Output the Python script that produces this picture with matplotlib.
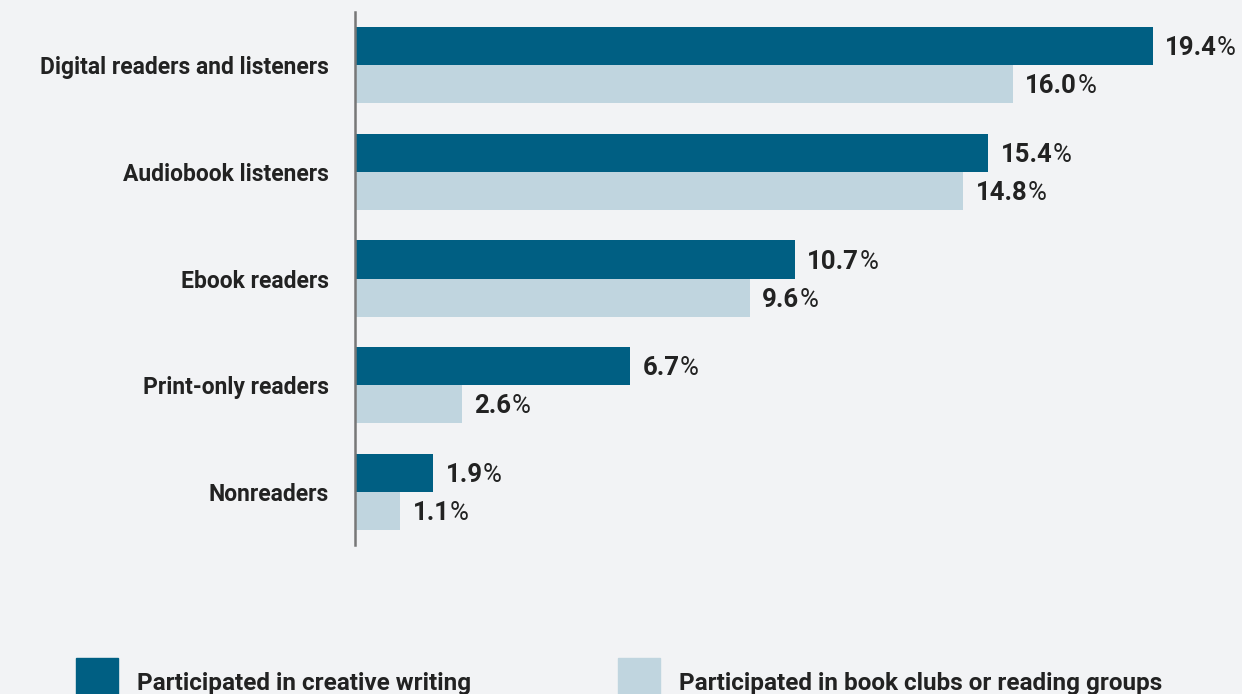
import matplotlib
matplotlib.use('Agg')
import matplotlib.pyplot as plt
from matplotlib.patches import Rectangle
import numpy as np

plt.rcParams['font.family'] = ['Roboto', 'DejaVu Sans']

# 数据
categories = ['Digital readers and listeners', 'Audiobook listeners', 'Ebook readers',
              'Print-only readers', 'Nonreaders']
creative_writing = [19.4, 15.4, 10.7, 6.7, 1.9]
book_clubs = [16.0, 14.8, 9.6, 2.6, 1.1]
legend_labels = ['Participated in creative writing', 'Participated in book clubs or reading groups']

dark = '#005f83'
light = '#c0d5df'
bg = '#f2f3f5'
txt = '#222222'

fig = plt.figure(figsize=(12.42, 6.94), dpi=100, facecolor=bg)
ax = fig.add_axes([0.2858, 0.2147, 0.6952, 0.768], facecolor=bg)

y = np.arange(len(categories))
h = 0.357
ax.barh(y - h / 2, creative_writing, height=h, color=dark)
ax.barh(y + h / 2, book_clubs, height=h, color=light)

ax.set_xlim(0, 21)
ax.set_ylim(4.5, -0.5)

for s in ['top', 'right', 'bottom']:
    ax.spines[s].set_visible(False)
ax.spines['left'].set_color('#777777')
ax.spines['left'].set_linewidth(1.8)
ax.set_xticks([])
ax.set_yticks(y)
ax.set_yticklabels(categories, fontsize=16.5, fontweight='bold', color=txt)
ax.tick_params(axis='y', length=0, pad=19)


# 数值标签: 数字加粗, 百分号常规
def add_label(v, yy):
    t = ax.annotate(f'{v:.1f}', xy=(v, yy), xytext=(9, -1.5), textcoords='offset points',
                    va='center', ha='left', fontsize=18.5, fontweight='bold', color=txt)
    ax.annotate('%', xy=(1, 0), xycoords=t, va='bottom', ha='left',
                fontsize=18.5, color=txt)


for i in range(len(categories)):
    add_label(creative_writing[i], y[i] - h / 2)
    add_label(book_clubs[i], y[i] + h / 2)

# 图例
for x0, col, lab in [(76, dark, legend_labels[0]), (618, light, legend_labels[1])]:
    fig.patches.append(Rectangle((x0 / 1242, 0), 42 / 1242, 36 / 694,
                                 transform=fig.transFigure, color=col, figure=fig))
    fig.text((x0 + 61) / 1242, 4 / 694, lab, fontsize=17.5, fontweight='bold',
             color=txt, va='baseline', ha='left')

fig.savefig('out.png', dpi=100, facecolor=bg)
